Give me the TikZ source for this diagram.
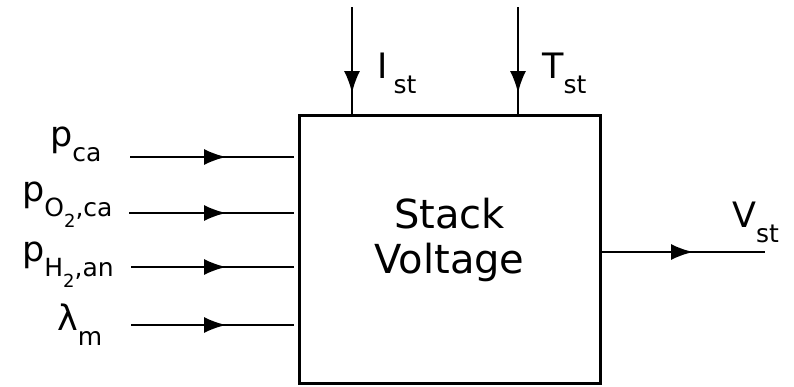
\documentclass[tikz,border=0pt]{standalone}
\usepackage{fontspec}
\setmainfont{DejaVu Sans}
\usetikzlibrary{arrows.meta,decorations.markings}
\newcommand{\sub}[1]{\raisebox{-15pt}{\fontsize{25}{25}\selectfont #1}}
\newcommand{\subsub}[1]{\raisebox{-11pt}{\fontsize{18}{18}\selectfont #1}}

\begin{document}
\begin{tikzpicture}[x=1pt, y=-1pt,
    block/.style={draw, line width=3pt, outer sep=0pt, minimum width=301pt, minimum height=268pt,
      align=center, text depth=26pt, font=\fontsize{40}{45}\selectfont},
    signal/.style={font=\fontsize{35}{35}\selectfont, anchor=base west, inner sep=0pt},
    input/.style={line width=2pt, postaction={decorate},
      decoration={markings, mark=at position #1 with {\arrow{Latex[length=22pt,width=16pt]}}}}
  ]
    \useasboundingbox (0,0) rectangle (794,386);
    \node[block] (stack) at (449.5,249) {Stack\\Voltage};

    \node[signal] (pca-lbl) at (50,146) {p\sub{ca}};
    \node[signal] (po2-lbl) at (22,201) {p\sub{O\subsub{2},ca}};
    \node[signal] (ph2-lbl) at (22,261) {p\sub{H\subsub{2},an}};
    \node[signal] (lam-lbl) at (57,330) {λ\sub{m}};
    \coordinate (pca) at (130,157);
    \coordinate (po2) at (129,213);
    \coordinate (ph2) at (131,267);
    \coordinate (lam) at (131,325);
    \draw[input=96pt, shorten >=5pt] (pca) -- (pca -| stack.west);
    \draw[input=97pt, shorten >=5pt] (po2) -- (po2 -| stack.west);
    \draw[input=95pt, shorten >=5pt] (ph2) -- (ph2 -| stack.west);
    \draw[input=95pt, shorten >=5pt] (lam) -- (lam -| stack.west);

    \node[signal] (ist-lbl) at (377,78) {I\hspace{6pt}\sub{st}};
    \node[signal] (tst-lbl) at (542,78) {T\sub{st}};
    \coordinate (ist) at (352,7);
    \coordinate (tst) at (518,7);
    \draw[input=86pt] (ist) -- (ist |- stack.north);
    \draw[input=86pt] (tst) -- (tst |- stack.north);

    \node[signal] (vst-lbl) at (732,227) {V\sub{st}};
    \coordinate (vst) at (765,252);
    \draw[input=93pt] (stack.east |- vst) -- (vst);
  \end{tikzpicture}
\end{document}
